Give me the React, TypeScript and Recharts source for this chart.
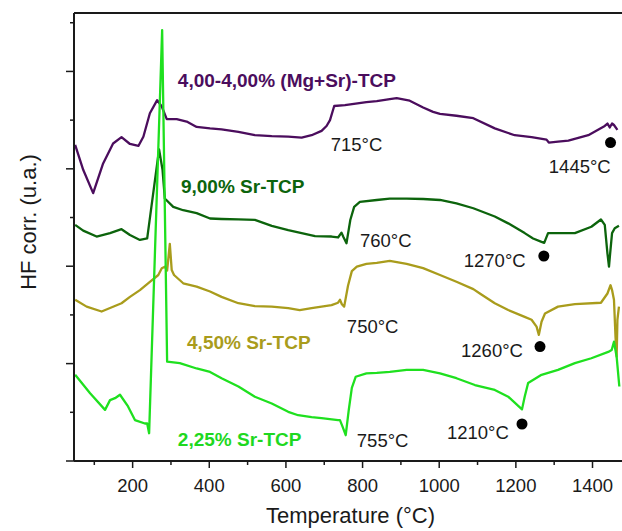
import React from 'react';
import { LineChart, Line, XAxis, YAxis, ReferenceLine, ReferenceDot } from 'recharts';

const FONT = '"Liberation Sans", Arial, Helvetica, sans-serif';
const AXIS_COLOR = '#1a1a1a';

const X_TICKS = [100, 200, 300, 400, 500, 600, 700, 800, 900, 1000, 1100, 1200, 1300, 1400];
const X_LABELED = [200, 400, 600, 800, 1000, 1200, 1400];
const Y_TICKS = [0, 1, 2, 3, 4, 5, 6, 7, 8, 9];
const Y_MAJOR = [0, 2, 4, 6, 8];

// 4,00-4,00% (Mg+Sr)-TCP
const MGSR_T = [50, 71, 97, 123, 149, 171, 193, 215, 228, 245, 264, 276, 289, 315, 341, 367, 402, 432, 476, 519, 563, 606, 641, 667, 693, 706, 715, 726, 754, 810, 837, 871, 889, 923, 958, 984, 1002, 1045, 1089, 1145, 1197, 1241, 1280, 1286, 1310, 1337, 1389, 1432, 1439, 1445, 1451, 1456, 1465];
const MGSR_HF = [6.49, 5.98, 5.5, 6.11, 6.52, 6.65, 6.51, 6.47, 6.66, 7.14, 7.41, 7.28, 7.02, 7.02, 6.97, 6.86, 6.83, 6.81, 6.76, 6.69, 6.67, 6.66, 6.64, 6.69, 6.78, 6.88, 7.0, 7.29, 7.31, 7.37, 7.39, 7.43, 7.45, 7.4, 7.26, 7.17, 7.13, 7.09, 7.04, 6.83, 6.69, 6.65, 6.6, 6.54, 6.56, 6.58, 6.69, 6.88, 6.93, 6.85, 6.93, 6.9, 6.8];

// 9,00% Sr-TCP
const SR9_T = [50, 71, 106, 141, 171, 193, 219, 238, 269, 278, 284, 306, 332, 367, 402, 432, 476, 519, 563, 606, 641, 676, 719, 736, 745, 750, 758, 768, 778, 793, 837, 871, 915, 958, 1002, 1045, 1089, 1145, 1180, 1223, 1245, 1267, 1274, 1284, 1310, 1354, 1397, 1422, 1432, 1439, 1443, 1446, 1451, 1458, 1469];
const SR9_HF = [4.85, 4.73, 4.61, 4.68, 4.76, 4.64, 4.54, 4.57, 6.4, 5.98, 5.39, 5.22, 5.15, 5.09, 4.98, 4.97, 4.96, 4.95, 4.83, 4.74, 4.68, 4.62, 4.61, 4.59, 4.69, 4.6, 4.47, 4.95, 5.22, 5.32, 5.36, 5.39, 5.39, 5.38, 5.36, 5.29, 5.19, 5.02, 4.88, 4.68, 4.57, 4.5, 4.48, 4.68, 4.68, 4.68, 4.81, 4.96, 4.85, 4.26, 3.99, 4.26, 4.68, 4.78, 4.83];

// 4,50% Sr-TCP
const SR45_T = [50, 80, 119, 171, 193, 219, 245, 267, 276, 284, 290, 297, 302, 308, 332, 367, 402, 432, 476, 519, 563, 606, 636, 667, 693, 719, 736, 741, 746, 752, 762, 772, 785, 810, 837, 871, 915, 958, 1002, 1045, 1089, 1106, 1145, 1180, 1223, 1241, 1254, 1260, 1267, 1276, 1310, 1354, 1422, 1439, 1447, 1451, 1456, 1460, 1463, 1465, 1469];
const SR45_HF = [3.31, 3.17, 3.07, 3.24, 3.37, 3.51, 3.68, 3.82, 3.96, 3.99, 3.91, 4.46, 3.92, 3.82, 3.65, 3.58, 3.48, 3.37, 3.24, 3.18, 3.17, 3.14, 3.1, 3.14, 3.17, 3.2, 3.25, 3.31, 3.22, 3.17, 3.6, 3.9, 3.99, 4.05, 4.07, 4.11, 4.05, 3.96, 3.82, 3.68, 3.53, 3.44, 3.24, 3.1, 2.96, 2.9, 2.76, 2.59, 2.86, 3.03, 3.17, 3.22, 3.25, 3.44, 3.61, 3.51, 3.31, 2.55, 2.14, 2.9, 3.17];

// 2,25% Sr-TCP
const SR225_T = [50, 89, 128, 141, 154, 167, 188, 206, 232, 238, 243, 277, 290, 323, 367, 402, 432, 476, 519, 563, 606, 632, 667, 693, 736, 741, 748, 756, 764, 772, 782, 810, 837, 871, 915, 958, 1002, 1045, 1093, 1145, 1180, 1197, 1216, 1223, 1232, 1267, 1310, 1354, 1397, 1441, 1450, 1456, 1463, 1470];
const SR225_HF = [1.77, 1.39, 1.05, 1.25, 1.29, 1.36, 1.12, 0.84, 0.77, 0.77, 0.57, 8.85, 2.04, 2.01, 1.9, 1.83, 1.7, 1.53, 1.32, 1.18, 1.01, 0.94, 0.9, 0.88, 0.84, 0.84, 0.7, 0.53, 1.05, 1.5, 1.73, 1.8, 1.81, 1.83, 1.87, 1.87, 1.8, 1.7, 1.56, 1.46, 1.32, 1.2, 1.06, 1.32, 1.6, 1.77, 1.87, 2.01, 2.11, 2.24, 2.28, 2.45, 2.14, 1.53];

const toRows = (t: number[], hf: number[]) => t.map((x, i) => ({ t: x, hf: hf[i] }));

const SERIES = [
  { name: '4,00-4,00% (Mg+Sr)-TCP', color: '#4b0d5d', rows: toRows(MGSR_T, MGSR_HF) },
  { name: '9,00% Sr-TCP', color: '#0c640c', rows: toRows(SR9_T, SR9_HF) },
  { name: '4,50% Sr-TCP', color: '#a99c1c', rows: toRows(SR45_T, SR45_HF) },
  { name: '2,25% Sr-TCP', color: '#1fe01f', rows: toRows(SR225_T, SR225_HF) },
];

const SAMPLE_LABELS = [
  { text: '4,00-4,00% (Mg+Sr)-TCP', t: 318, hf: 7.68, color: '#4b0d5d' },
  { text: '9,00% Sr-TCP', t: 326, hf: 5.5, color: '#0c640c' },
  { text: '4,50% Sr-TCP', t: 342, hf: 2.3, color: '#a99c1c' },
  { text: '2,25% Sr-TCP', t: 318, hf: 0.31, color: '#1fd81f' },
];

const PEAK_LABELS = [
  { text: '715°C', t: 717, hf: 6.37 },
  { text: '1445°C', t: 1286, hf: 5.91 },
  { text: '760°C', t: 793, hf: 4.39 },
  { text: '1270°C', t: 1064, hf: 3.98 },
  { text: '750°C', t: 759, hf: 2.63 },
  { text: '1260°C', t: 1057, hf: 2.14 },
  { text: '755°C', t: 785, hf: 0.29 },
  { text: '1210°C', t: 1020, hf: 0.45 },
];

const PEAK_DOTS = [
  { t: 1447, hf: 6.54 },
  { t: 1273, hf: 4.21 },
  { t: 1263, hf: 2.35 },
  { t: 1216, hf: 0.76 },
];

function XTick({ x, y, payload }: any) {
  const major = X_LABELED.includes(payload.value);
  return (
    <g>
      <line x1={x} x2={x} y1={y} y2={y + (major ? 7 : 4)} stroke={AXIS_COLOR} strokeWidth={1.5} />
      {major && (
        <text x={x} y={y + 31} textAnchor="middle" fontSize={18.5} fontFamily={FONT} fill="#1a1a1a">
          {payload.value}
        </text>
      )}
    </g>
  );
}

function YTick({ x, y, payload }: any) {
  const major = Y_MAJOR.includes(payload.value);
  return <line x1={x} x2={x - (major ? 8 : 4)} y1={y} y2={y} stroke={AXIS_COLOR} strokeWidth={1.5} />;
}

function YTitle() {
  return (
    <text x={36} y={222} transform="rotate(-90 36 222)" textAnchor="middle" fontSize={22} fontFamily={FONT} fill="#1a1a1a">
      HF corr. (u.a.)
    </text>
  );
}

export default function App() {
  return (
    <div style={{ position: 'absolute', left: 0, top: 0, width: 622, height: 531, overflow: 'hidden', background: '#fff' }}>
      <LineChart width={640} height={531} margin={{ top: 13, right: 13, bottom: 0, left: 0 }}>
        <XAxis
          type="number"
          dataKey="t"
          domain={[47, 1490]}
          allowDataOverflow
          ticks={X_TICKS}
          interval={0}
          height={70}
          tickSize={0}
          tickMargin={0}
          tickLine={false}
          tick={<XTick />}
          axisLine={{ stroke: AXIS_COLOR, strokeWidth: 2 }}
          label={{ value: 'Temperature (°C)', position: 'insideBottom', offset: 8, fontSize: 22, fontFamily: FONT, fill: '#1a1a1a' }}
        />
        <YAxis
          type="number"
          dataKey="hf"
          domain={[0, 9.2]}
          allowDataOverflow
          ticks={Y_TICKS}
          interval={0}
          width={74}
          tickSize={0}
          tickMargin={0}
          tickLine={false}
          tick={<YTick />}
          axisLine={{ stroke: AXIS_COLOR, strokeWidth: 2 }}
          label={{ content: () => <YTitle /> }}
        />
        <ReferenceLine y={9.2} stroke={AXIS_COLOR} strokeWidth={2} />
        {SERIES.map((s) => (
          <Line
            key={s.name}
            data={s.rows}
            dataKey="hf"
            name={s.name}
            type="linear"
            stroke={s.color}
            strokeWidth={2.3}
            strokeLinejoin="round"
            dot={false}
            isAnimationActive={false}
          />
        ))}
        {PEAK_DOTS.map((d) => (
          <ReferenceDot key={`dot-${d.t}`} x={d.t} y={d.hf} r={5.5} fill="#000" stroke="none" />
        ))}
        {SAMPLE_LABELS.map((l) => (
          <ReferenceDot
            key={l.text}
            x={l.t}
            y={l.hf}
            r={1}
            shape={(p: any) => (
              <text x={p.cx} y={p.cy} fontSize={19} fontWeight="bold" fontFamily={FONT} fill={l.color}>
                {l.text}
              </text>
            )}
          />
        ))}
        {PEAK_LABELS.map((l) => (
          <ReferenceDot
            key={l.text}
            x={l.t}
            y={l.hf}
            r={1}
            shape={(p: any) => (
              <text x={p.cx} y={p.cy} fontSize={18.5} fontFamily={FONT} fill="#1a1a1a">
                {l.text}
              </text>
            )}
          />
        ))}
      </LineChart>
    </div>
  );
}
